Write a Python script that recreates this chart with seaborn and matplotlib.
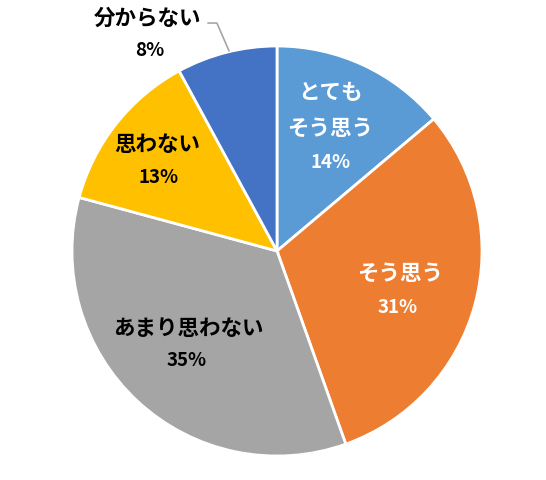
import matplotlib
matplotlib.use("Agg")
import matplotlib.pyplot as plt
import seaborn as sns

labels = ["とても\nそう思う", "そう思う", "あまり思わない", "思わない", "分からない"]
values = [14, 31, 35, 13, 8]
pct_text = ["14%", "31%", "35%", "13%", "8%"]
colors = ["#5B9BD5", "#ED7D31", "#A5A5A5", "#FFC000", "#4472C4"]

sns.set_theme(style="white")
plt.rcParams["font.family"] = ["Noto Sans CJK JP", "DejaVu Sans"]

fig = plt.figure(figsize=(5.46, 4.81), dpi=100)
# pie centre at (277, 252) px, radius 205 px
cx, cy, r = 277, 252, 205
ax = fig.add_axes([(cx - r) / 546, (481 - cy - r) / 481, 2 * r / 546, 2 * r / 481])

wedges, _ = ax.pie(values, colors=colors, startangle=90, counterclock=False,
                   wedgeprops=dict(edgecolor="white", linewidth=2), radius=1.0)
ax.set_xlim(-1, 1)
ax.set_ylim(-1, 1)

# text positions in units of pie radius
label_xy = [(0.259, 0.690), (0.600, -0.102), (-0.434, -0.371), (-0.583, 0.522), (-0.629, 1.141)]
pct_xy = [(0.259, 0.439), (0.590, -0.273), (-0.439, -0.527), (-0.580, 0.361), (-0.620, 0.985)]
text_c = ["white", "white", "black", "black", "black"]

for lab, pct, lxy, pxy, c in zip(labels, pct_text, label_xy, pct_xy, text_c):
    ax.text(*lxy, lab, ha="center", va="center", color=c, fontsize=15.5,
            fontweight="bold", linespacing=1.85, clip_on=False)
    ax.text(*pxy, pct, ha="center", va="center", color=c, fontsize=13.5,
            fontweight="bold", clip_on=False)

# leader line for the small slice
ax.plot([-0.337, -0.293, -0.234], [1.112, 1.112, 0.976], color="#A6A6A6", lw=1.2, clip_on=False)

ax.set_aspect("equal")
ax.axis("off")
fig.savefig("out.png", dpi=100, facecolor="white")
